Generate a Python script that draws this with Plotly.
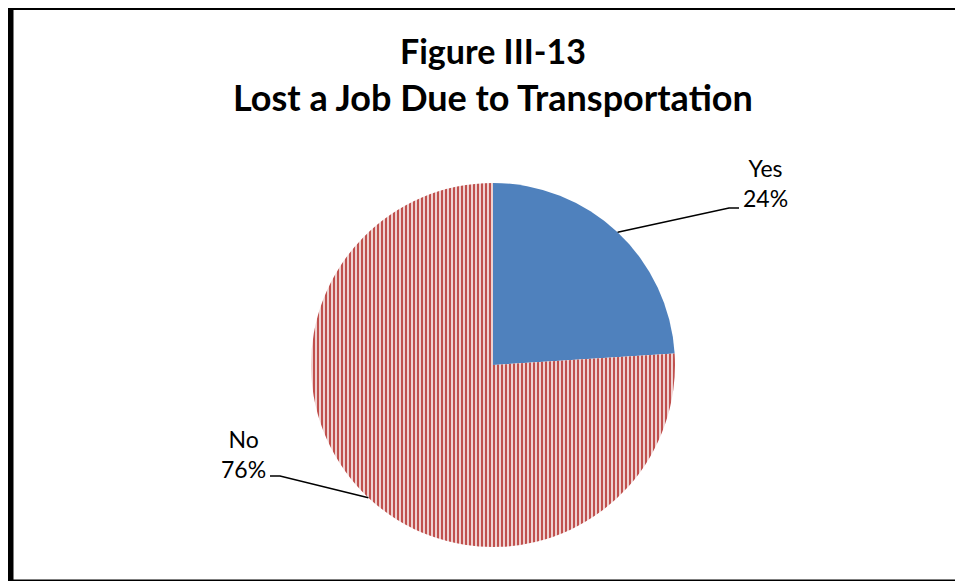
import math
import plotly.graph_objects as go

labels = ["Yes", "No"]
values = [24, 76]
colors = ["#4F81BD", "#C0504D"]

W, H = 963, 581
OFF = 8  # page body margin offset
cx, cy, r = 493, 365, 182  # pie placement in pixels (page coords)

def px(x):
    return (x - OFF) / W

def py(y):
    return 1 - (y - OFF) / H

fig = go.Figure(go.Pie(
    labels=labels, values=values, sort=False, direction="clockwise", rotation=0,
    textinfo="none", hoverinfo="label+percent",
    marker=dict(
        colors=colors,
        line=dict(width=0),
        pattern=dict(shape=["", "|"], fgcolor=colors,
                     bgcolor=["#4F81BD", "#F4E1E0"], size=4, solidity=0.55),
    ),
    domain=dict(x=[px(cx - r), px(cx + r)], y=[py(cy + r), py(cy - r)]),
    showlegend=False,
))

# label positions (layout) and leader-line elbows
label_pos = {"Yes": (765, 183, 739, 208), "No": (243, 454, 270, 476)}

total = sum(values)
cum = 0
shapes = []
annotations = []
for lab, v in zip(labels, values):
    mid = (cum + v / 2) / total * 2 * math.pi
    cum += v
    ex = cx + r * math.sin(mid)
    ey = cy - r * math.cos(mid)
    tx, ty, lx, ly = label_pos[lab]
    hx = lx - 10 if lab == "Yes" else lx + 10
    path = f"M {px(ex)},{py(ey)} L {px(hx)},{py(ly)} L {px(lx)},{py(ly)}"
    shapes.append(dict(type="path", xref="paper", yref="paper", path=path,
                       line=dict(color="black", width=1.5)))
    pct = round(v / total * 100)
    annotations.append(dict(x=px(tx), y=py(ty), xref="paper", yref="paper",
                            text=f"{lab}<br>{pct}%", showarrow=False,
                            font=dict(family="Lato", size=23, color="black"),
                            align="center", xanchor="center", yanchor="middle"))

title_lines = ["Figure III-13", "Lost a Job Due to Transportation"]
for t, yy, fs in zip(title_lines, [50, 97], [34, 36]):
    annotations.append(dict(x=px(493), y=py(yy), xref="paper", yref="paper",
                            text=f"<b>{t}</b>", showarrow=False, align="center",
                            font=dict(family="Lato", size=fs, color="black"),
                            xanchor="center", yanchor="middle"))

shapes.append(dict(type="rect", xref="paper", yref="paper",
                   x0=px(10.5), x1=px(985), y0=py(582.5), y1=py(7),
                   line=dict(color="black", width=6), fillcolor="rgba(0,0,0,0)"))

fig.update_layout(
    width=W, height=H, margin=dict(l=0, r=0, t=0, b=0),
    paper_bgcolor="white", plot_bgcolor="white",
    shapes=shapes, annotations=annotations,
)
fig.write_html("out.html")
